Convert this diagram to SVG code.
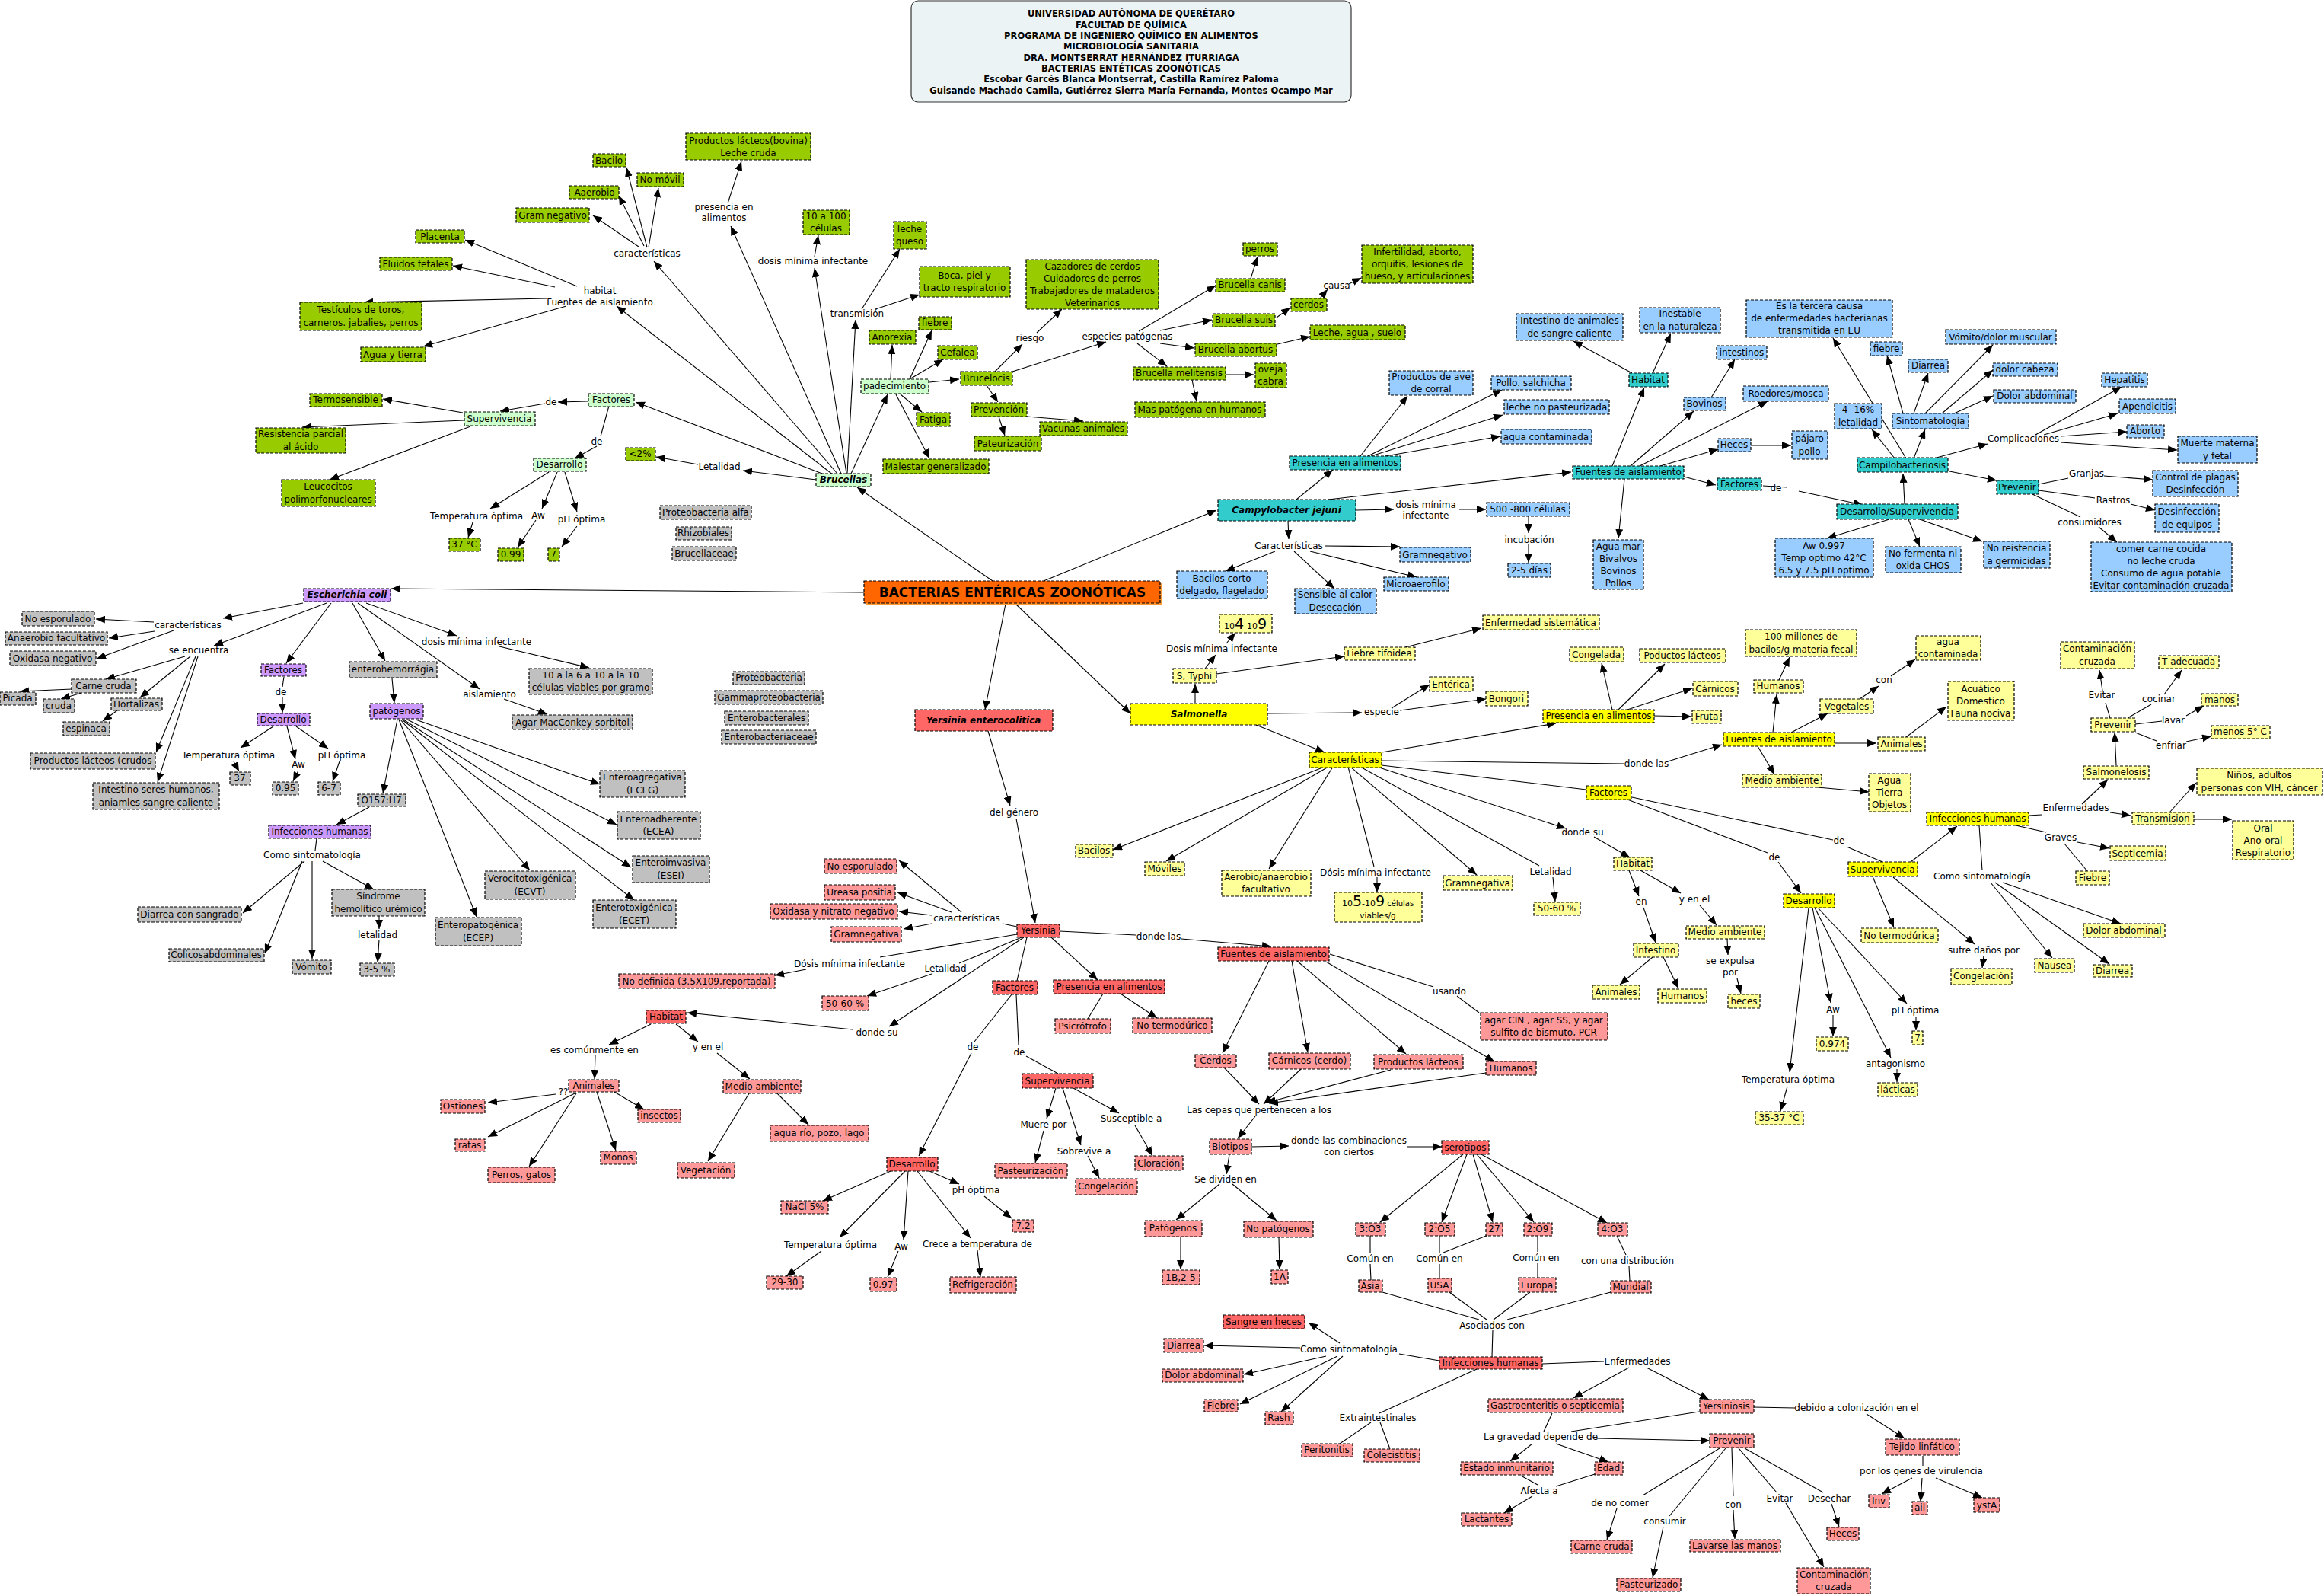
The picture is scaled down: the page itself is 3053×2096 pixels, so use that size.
<svg xmlns="http://www.w3.org/2000/svg" width="3053" height="2096" viewBox="0 0 3053 2096">
<style>
svg text{font-family:"DejaVu Sans",Verdana,sans-serif;font-size:12px;text-anchor:middle;fill:#000}
.n rect{stroke:#000;stroke-width:1.2;stroke-dasharray:4 2}
.og rect{fill:#99CC00}.lg rect{fill:#CCFFCC}.gr rect{fill:#C0C0C0}.pu rect{fill:#CC99FF}.tl rect{fill:#33CCCC}.lb rect{fill:#99CCFF}.ys rect{fill:#FFFF00}.yl rect{fill:#FFFF99}.rd rect{fill:#FF6666}.pk rect{fill:#FF9999}
.bi text{font-weight:bold;font-style:italic}
.tt{font-weight:bold;font-size:11.5px}
#conn path{stroke:#000;stroke-width:1.1;fill:none}
#conn .a{marker-end:url(#ar)}
</style>
<defs>
<marker id="ar" viewBox="0 0 12 10" refX="12" refY="5" markerWidth="12" markerHeight="10" markerUnits="userSpaceOnUse" orient="auto"><path d="M0,0L12,5L0,10z" fill="#000"/></marker>
</defs>
<rect width="3053" height="2096" fill="#fff"/>
<g id="conn">
<path class="a" d="M1100 622L859 343"/><path class="a" d="M850 325L823 220"/><path class="a" d="M852 325L865 247"/><path class="a" d="M846 323L813 257"/><path class="a" d="M839 324L779 283"/><path class="a" d="M1105 622L960 297"/><path class="a" d="M956 267L974 212"/><path class="a" d="M1095 624L810 402"/><path class="a" d="M758 376L611 315"/><path class="a" d="M729 377L595 349"/><path class="a" d="M719 392L478 397"/><path class="a" d="M744 402L556 455"/><path class="a" d="M1080 622L835 528"/><path class="a" d="M773 527L733 528"/><path class="a" d="M716 530L657 540"/><path class="a" d="M608 542L503 524"/><path class="a" d="M610 552L397 561"/><path class="a" d="M618 560L433 630"/><path d="M800 533L789 573"/><path class="a" d="M784 586L755 602"/><path class="a" d="M1072 630L976 618"/><path class="a" d="M917 610L862 600"/><path class="a" d="M721 620L644 668"/><path class="a" d="M732 620L712 668"/><path class="a" d="M742 620L758 672"/><path class="a" d="M621 686L615 706"/><path class="a" d="M704 683L680 719"/><path class="a" d="M758 691L738 718"/><path class="a" d="M1112 622L1070 352"/><path class="a" d="M1070 337L1075 309"/><path class="a" d="M1113 622L1124 420"/><path class="a" d="M1132 406L1182 327"/><path class="a" d="M1150 406L1208 387"/><path class="a" d="M1118 622L1166 518"/><path class="a" d="M1170 498L1172 453"/><path class="a" d="M1195 498L1224 434"/><path class="a" d="M1195 498L1239 472"/><path class="a" d="M1221 502L1260 498"/><path class="a" d="M1183 518L1211 541"/><path class="a" d="M1177 518L1221 602"/><path class="a" d="M1307 488L1343 452"/><path class="a" d="M1362 437L1395 406"/><path class="a" d="M1330 488L1453 449"/><path class="a" d="M1296 506L1311 528"/><path class="a" d="M1349 547L1423 553"/><path class="a" d="M1312 547L1320 572"/><path class="a" d="M1496 435L1597 375"/><path class="a" d="M1524 434L1592 420"/><path class="a" d="M1524 451L1569 457"/><path class="a" d="M1494 451L1533 481"/><path class="a" d="M1643 366L1652 337"/><path class="a" d="M1677 417L1695 404"/><path class="a" d="M1734 392L1744 380"/><path class="a" d="M1772 373L1788 365"/><path class="a" d="M1678 452L1721 442"/><path class="a" d="M1610 492L1647 492"/><path class="a" d="M1566 499L1572 527"/>
<path class="a" d="M1371 763L1598 670"/><path class="a" d="M1304 763L1126 640"/><path class="a" d="M1135 778L514 773"/><path class="a" d="M1321 793L1294 932"/><path class="a" d="M1334 793L1485 937"/>
<path class="a" d="M1703 656L1751 617"/><path class="a" d="M1787 599L1849 520"/><path class="a" d="M1797 599L1973 512"/><path class="a" d="M1801 599L1974 545"/><path class="a" d="M1820 599L1971 573"/><path class="a" d="M1745 656L2064 620"/><path class="a" d="M2118 612L2160 509"/><path class="a" d="M2144 490L2067 448"/><path class="a" d="M2171 490L2195 438"/><path class="a" d="M2142 612L2225 540"/><path class="a" d="M2248 522L2279 472"/><path class="a" d="M2154 612L2322 527"/><path class="a" d="M2181 612L2257 590"/><path class="a" d="M2300 585L2353 585"/><path class="a" d="M2134 629L2126 707"/><path class="a" d="M2212 626L2254 637"/><path d="M2316 638L2348 640"/><path class="a" d="M2363 645L2447 663"/><path class="a" d="M2502 662L2500 622"/><path class="a" d="M2489 602L2459 564"/><path class="a" d="M2504 602L2408 444"/><path class="a" d="M2514 602L2529 564"/><path class="a" d="M2500 543L2479 467"/><path class="a" d="M2514 543L2533 490"/><path class="a" d="M2529 543L2618 453"/><path class="a" d="M2551 543L2618 486"/><path class="a" d="M2567 543L2618 520"/><path class="a" d="M2544 601L2611 583"/><path class="a" d="M2674 571L2787 508"/><path class="a" d="M2685 571L2782 543"/><path class="a" d="M2707 573L2794 567"/><path class="a" d="M2707 581L2860 591"/><path class="a" d="M2561 619L2623 631"/><path d="M2678 636L2717 628"/><path class="a" d="M2764 625L2828 630"/><path d="M2678 644L2752 654"/><path class="a" d="M2799 662L2831 670"/><path d="M2670 649L2733 679"/><path class="a" d="M2757 692L2781 712"/><path class="a" d="M2482 682L2400 707"/><path class="a" d="M2507 682L2522 718"/><path class="a" d="M2522 682L2604 711"/><path class="a" d="M1781 670L1831 669"/><path class="a" d="M1917 669L1952 669"/><path class="a" d="M2008 678L2008 700"/><path class="a" d="M2008 715L2008 739"/><path class="a" d="M1692 684L1693 708"/><path class="a" d="M1740 717L1839 718"/><path class="a" d="M1675 724L1610 750"/><path class="a" d="M1700 724L1753 773"/><path class="a" d="M1721 724L1861 758"/>
<path class="a" d="M1570 923L1570 898"/><path class="a" d="M1583 878L1597 860"/><path class="a" d="M1611 845L1623 831"/><path class="a" d="M1598 885L1766 862"/><path class="a" d="M1846 850L1946 825"/><path class="a" d="M1665 937L1789 936"/><path class="a" d="M1828 930L1878 899"/><path class="a" d="M1839 933L1952 918"/><path class="a" d="M1650 952L1740 988"/><path class="a" d="M1740 1007L1462 1116"/><path class="a" d="M1745 1007L1532 1131"/><path class="a" d="M1751 1007L1667 1141"/><path d="M1771 1007L1805 1138"/><path class="a" d="M1809 1152L1809 1172"/><path class="a" d="M1774 1007L1940 1149"/><path d="M1787 1007L2022 1137"/><path class="a" d="M2040 1152L2043 1184"/><path d="M1815 999L2134 1003"/><path class="a" d="M2191 1000L2262 978"/><path class="a" d="M1815 988L2044 950"/><path class="a" d="M2118 932L2104 871"/><path class="a" d="M2126 932L2187 872"/><path class="a" d="M2138 932L2223 904"/><path class="a" d="M2173 940L2222 941"/><path class="a" d="M2329 962L2334 912"/><path class="a" d="M2337 893L2351 863"/><path class="a" d="M2353 962L2401 937"/><path class="a" d="M2443 918L2468 901"/><path class="a" d="M2484 888L2516 866"/><path class="a" d="M2411 976L2465 976"/><path class="a" d="M2504 968L2557 928"/><path class="a" d="M2309 980L2331 1017"/><path class="a" d="M2388 1034L2455 1040"/><path d="M1815 1005L2084 1037"/><path class="a" d="M1812 1008L2057 1088"/><path class="a" d="M2094 1099L2141 1126"/><path class="a" d="M2140 1143L2153 1177"/><path class="a" d="M2155 1143L2208 1173"/><path class="a" d="M2159 1192L2175 1238"/><path class="a" d="M2233 1189L2255 1215"/><path class="a" d="M2171 1257L2128 1293"/><path class="a" d="M2185 1257L2205 1298"/><path class="a" d="M2269 1233L2270 1254"/><path class="a" d="M2282 1285L2287 1305"/><path d="M2138 1050L2322 1120"/><path class="a" d="M2336 1132L2366 1173"/><path d="M2144 1047L2408 1103"/><path d="M2426 1112L2473 1132"/><path class="a" d="M2510 1132L2571 1085"/><path d="M2665 1071L2682 1070"/><path class="a" d="M2735 1056L2769 1024"/><path class="a" d="M2780 1005L2778 962"/><path d="M2772 943L2766 923"/><path class="a" d="M2762 907L2758 880"/><path d="M2795 943L2826 925"/><path class="a" d="M2843 912L2866 880"/><path d="M2805 951L2840 947"/><path class="a" d="M2872 940L2895 927"/><path d="M2805 962L2833 973"/><path class="a" d="M2872 974L2905 967"/><path class="a" d="M2772 1067L2799 1071"/><path class="a" d="M2850 1067L2885 1028"/><path class="a" d="M2882 1076L2932 1076"/><path d="M2648 1084L2688 1093"/><path class="a" d="M2729 1106L2771 1114"/><path d="M2712 1108L2742 1144"/><path d="M2600 1084L2604 1143"/><path class="a" d="M2615 1159L2696 1258"/><path class="a" d="M2621 1159L2771 1266"/><path class="a" d="M2631 1159L2786 1213"/><path class="a" d="M2460 1151L2488 1218"/><path class="a" d="M2487 1152L2594 1240"/><path class="a" d="M2606 1255L2604 1271"/><path class="a" d="M2376 1192L2351 1408"/><path class="a" d="M2348 1427L2339 1459"/><path class="a" d="M2381 1192L2405 1317"/><path class="a" d="M2408 1333L2408 1361"/><path class="a" d="M2384 1192L2484 1389"/><path class="a" d="M2492 1404L2492 1421"/><path class="a" d="M2388 1192L2505 1318"/><path class="a" d="M2517 1335L2517 1353"/>
<path class="a" d="M1298 960L1327 1058"/><path class="a" d="M1335 1075L1360 1212"/>
<path class="a" d="M398 792L293 812"/><path class="a" d="M202 817L126 813"/><path class="a" d="M203 829L143 838"/><path class="a" d="M228 828L127 865"/><path class="a" d="M429 792L281 848"/><path class="a" d="M243 862L139 892"/><path class="a" d="M94 905L26 908"/><path class="a" d="M107 910L80 918"/><path class="a" d="M250 862L184 916"/><path class="a" d="M154 933L135 947"/><path class="a" d="M257 862L205 988"/><path class="a" d="M260 862L207 1027"/><path class="a" d="M435 792L376 871"/><path d="M373 889L371 902"/><path class="a" d="M371 916L371 936"/><path class="a" d="M359 954L316 982"/><path class="a" d="M377 954L388 997"/><path class="a" d="M389 954L431 983"/><path class="a" d="M307 1000L314 1013"/><path class="a" d="M392 1012L385 1026"/><path class="a" d="M446 1000L437 1026"/><path class="a" d="M463 792L506 868"/><path class="a" d="M515 891L518 923"/><path class="a" d="M470 792L630 905"/><path class="a" d="M662 918L719 938"/><path class="a" d="M481 792L600 835"/><path class="a" d="M656 849L774 877"/><path class="a" d="M522 945L503 1042"/><path class="a" d="M546 945L788 1030"/><path class="a" d="M535 945L810 1083"/><path class="a" d="M530 945L829 1139"/><path class="a" d="M528 945L833 1182"/><path class="a" d="M526 945L696 1143"/><path class="a" d="M524 945L626 1204"/><path class="a" d="M485 1060L442 1083"/><path d="M416 1101L414 1117"/><path class="a" d="M400 1131L319 1199"/><path class="a" d="M397 1131L348 1252"/><path class="a" d="M410 1131L410 1259"/><path class="a" d="M424 1131L491 1168"/><path class="a" d="M498 1203L498 1220"/><path class="a" d="M498 1234L496 1264"/>
<path d="M1336 1217L1317 1213"/><path class="a" d="M1263 1198L1181 1130"/><path class="a" d="M1250 1198L1179 1172"/><path class="a" d="M1224 1202L1181 1197"/><path class="a" d="M1224 1213L1187 1220"/><path d="M1336 1227L1156 1257"/><path class="a" d="M1059 1273L1018 1281"/><path d="M1342 1231L1260 1265"/><path class="a" d="M1224 1279L1139 1308"/><path class="a" d="M1345 1231L1168 1348"/><path class="a" d="M1120 1352L903 1330"/><path class="a" d="M855 1345L800 1372"/><path class="a" d="M888 1345L917 1368"/><path class="a" d="M782 1386L781 1417"/><path class="a" d="M942 1383L985 1417"/><path class="a" d="M730 1437L641 1448"/><path class="a" d="M755 1436L641 1493"/><path class="a" d="M757 1436L695 1532"/><path class="a" d="M784 1434L809 1511"/><path class="a" d="M807 1434L846 1457"/><path class="a" d="M984 1436L930 1525"/><path class="a" d="M1020 1435L1062 1477"/><path d="M1349 1231L1336 1288"/><path class="a" d="M1381 1231L1442 1287"/><path d="M1449 1305L1429 1338"/><path class="a" d="M1472 1305L1520 1337"/><path d="M1392 1223L1492 1228"/><path class="a" d="M1552 1233L1670 1243"/><path class="a" d="M1667 1262L1606 1383"/><path class="a" d="M1697 1262L1718 1382"/><path class="a" d="M1704 1262L1847 1384"/><path class="a" d="M1742 1263L1963 1394"/><path d="M1747 1253L1883 1296"/><path d="M1914 1308L1943 1330"/><path class="a" d="M1608 1402L1654 1450"/><path class="a" d="M1709 1404L1660 1450"/><path class="a" d="M1827 1405L1664 1448"/><path class="a" d="M1952 1409L1667 1449"/><path class="a" d="M1649 1466L1626 1495"/><path class="a" d="M1644 1506L1693 1505"/><path class="a" d="M1849 1506L1894 1506"/><path class="a" d="M1615 1516L1611 1542"/><path class="a" d="M1602 1555L1545 1602"/><path class="a" d="M1619 1555L1677 1603"/><path class="a" d="M1551 1624L1551 1667"/><path class="a" d="M1680 1625L1681 1667"/><path class="a" d="M1922 1516L1813 1605"/><path class="a" d="M1927 1516L1894 1605"/><path class="a" d="M1935 1516L1961 1605"/><path class="a" d="M1940 1516L2015 1605"/><path class="a" d="M1946 1516L2111 1606"/><path d="M1800 1623L1800 1645"/><path d="M1800 1660L1801 1681"/><path d="M1891 1623L1891 1645"/><path d="M1891 1660L1891 1679"/><path d="M1955 1622L1896 1645"/><path d="M2020 1623L2020 1644"/><path d="M2020 1659L2020 1678"/><path d="M2124 1623L2136 1648"/><path d="M2140 1663L2141 1682"/><path d="M1816 1697L1943 1733"/><path d="M1904 1697L1953 1733"/><path d="M2010 1697L1962 1733"/><path d="M2116 1697L1980 1733"/><path d="M1961 1747L1960 1782"/><path d="M1891 1787L1838 1778"/><path class="a" d="M1760 1764L1719 1737"/><path class="a" d="M1708 1770L1582 1767"/><path class="a" d="M1742 1781L1634 1805"/><path class="a" d="M1757 1781L1629 1844"/><path class="a" d="M1764 1781L1683 1854"/><path d="M1940 1798L1812 1856"/><path d="M1801 1868L1760 1896"/><path d="M1813 1868L1826 1903"/><path d="M2026 1791L2107 1788"/><path class="a" d="M2140 1796L2067 1836"/><path class="a" d="M2163 1796L2245 1838"/><path d="M2304 1848L2358 1849"/><path class="a" d="M2452 1857L2502 1889"/><path d="M2526 1912L2526 1925"/><path class="a" d="M2512 1941L2472 1962"/><path class="a" d="M2525 1941L2523 1972"/><path class="a" d="M2543 1941L2604 1967"/><path d="M2039 1856L2028 1880"/><path d="M2232 1854L2064 1880"/><path class="a" d="M2097 1889L2246 1892"/><path class="a" d="M2013 1896L1984 1919"/><path class="a" d="M2044 1896L2113 1920"/><path d="M1998 1938L2020 1950"/><path d="M2095 1936L2044 1952"/><path class="a" d="M2013 1965L1976 1987"/><path d="M2259 1902L2158 1964"/><path class="a" d="M2124 1981L2111 2022"/><path d="M2267 1902L2193 1991"/><path class="a" d="M2185 2005L2171 2072"/><path d="M2275 1902L2277 1965"/><path class="a" d="M2277 1983L2279 2021"/><path d="M2284 1902L2334 1960"/><path class="a" d="M2346 1974L2396 2058"/><path d="M2292 1902L2395 1960"/><path class="a" d="M2406 1975L2416 2005"/><path d="M1329 1306L1280 1368"/><path class="a" d="M1276 1383L1207 1518"/><path d="M1335 1306L1338 1372"/><path d="M1348 1387L1390 1410"/><path class="a" d="M1387 1429L1375 1469"/><path class="a" d="M1371 1485L1360 1527"/><path class="a" d="M1396 1429L1420 1504"/><path class="a" d="M1429 1518L1444 1547"/><path class="a" d="M1410 1429L1470 1462"/><path class="a" d="M1491 1478L1514 1518"/><path class="a" d="M1170 1538L1081 1577"/><path class="a" d="M1189 1538L1103 1625"/><path class="a" d="M1079 1643L1033 1676"/><path class="a" d="M1193 1538L1187 1628"/><path class="a" d="M1180 1643L1166 1677"/><path class="a" d="M1205 1538L1275 1626"/><path class="a" d="M1284 1642L1288 1677"/><path class="a" d="M1221 1538L1260 1555"/><path class="a" d="M1293 1571L1329 1600"/>
</g>
<g id="linking-phrases">
<text x="850" y="337">características</text><text x="951" y="276">presencia en</text><text x="951" y="290">alimentos</text><text x="788" y="386">habitat</text><text x="788" y="401">Fuentes de aislamiento</text><text x="724" y="532">de</text><text x="784" y="584">de</text><text x="945" y="617">Letalidad</text><text x="626" y="682">Temperatura óptima</text><text x="707" y="681">Aw</text><text x="764" y="686">pH óptima</text><text x="1068" y="347">dosis mínima infectante</text><text x="1126" y="416">transmisión</text><text x="1353" y="448">riesgo</text><text x="1481" y="446">especies patógenas</text><text x="1756" y="379">causa</text>
<text x="1873" y="667">dosis mínima</text><text x="1873" y="681">infectante</text><text x="2009" y="713">incubación</text><text x="1693" y="721">Características</text><text x="2658" y="580">Complicaciones</text><text x="2741" y="626">Granjas</text><text x="2333" y="645">de</text><text x="2776" y="661">Rastros</text><text x="2745" y="690">consumidores</text>
<text x="1605" y="856">Dosis mínima infectante</text><text x="1815" y="939">especie</text><text x="2475" y="897">con</text><text x="2761" y="917">Evitar</text><text x="2836" y="922">cocinar</text><text x="2855" y="950">lavar</text><text x="2852" y="983">enfriar</text><text x="2163" y="1007">donde las</text><text x="2727" y="1065">Enfermedades</text><text x="2079" y="1097">donde su</text><text x="2707" y="1104">Graves</text><text x="2416" y="1108">de</text><text x="2331" y="1130">de</text><text x="2604" y="1155">Como sintomatología</text><text x="1807" y="1150">Dósis mínima infectante</text><text x="2037" y="1149">Letalidad</text><text x="2156" y="1188">en</text><text x="2226" y="1185">y en el</text><text x="2606" y="1252">sufre daños por</text><text x="2273" y="1266">se expulsa</text><text x="2273" y="1281">por</text><text x="2408" y="1330">Aw</text><text x="2516" y="1331">pH óptima</text><text x="2490" y="1401">antagonismo</text><text x="2349" y="1422">Temperatura óptima</text>
<text x="247" y="825">características</text><text x="261" y="858">se encuentra</text><text x="626" y="847">dosis mínima infectante</text><text x="369" y="913">de</text><text x="643" y="916">aislamiento</text><text x="300" y="996">Temperatura óptima</text><text x="392" y="1008">Aw</text><text x="449" y="996">pH óptima</text><text x="410" y="1127">Como sintomatología</text><text x="496" y="1232">letalidad</text>
<text x="1332" y="1071">del género</text><text x="1270" y="1210">características</text><text x="1522" y="1234">donde las</text><text x="1116" y="1270">Dósis mínima infectante</text><text x="1242" y="1276">Letalidad</text><text x="1904" y="1306">usando</text><text x="1152" y="1360">donde su</text><text x="781" y="1383">es comúnmente en</text><text x="930" y="1379">y en el</text><text x="740" y="1438">??</text><text x="1278" y="1379">de</text><text x="1339" y="1386">de</text><text x="1654" y="1462">Las cepas que pertenecen a los</text><text x="1371" y="1481">Muere por</text><text x="1486" y="1473">Susceptible a</text><text x="1772" y="1502">donde las combinaciones</text><text x="1772" y="1517">con ciertos</text><text x="1424" y="1516">Sobrevive a</text><text x="1610" y="1553">Se dividen en</text><text x="1282" y="1567">pH óptima</text><text x="1091" y="1639">Temperatura óptima</text><text x="1184" y="1641">Aw</text><text x="1284" y="1638">Crece a temperatura de</text><text x="1800" y="1657">Común en</text><text x="1891" y="1657">Común en</text><text x="2018" y="1656">Común en</text><text x="2138" y="1660">con una distribución</text><text x="1960" y="1745">Asociados con</text><text x="1772" y="1776">Como sintomatología</text><text x="2151" y="1792">Enfermedades</text><text x="2439" y="1853">debido a colonización en el</text><text x="1810" y="1866">Extraintestinales</text><text x="2024" y="1891">La gravedad depende de</text><text x="2524" y="1936">por los genes de virulencia</text><text x="2022" y="1962">Afecta a</text><text x="2338" y="1972">Evitar</text><text x="2403" y="1972">Desechar</text><text x="2128" y="1978">de no comer</text><text x="2277" y="1980">con</text><text x="2187" y="2002">consumir</text>
</g>
<g id="title"><rect x="1197" y="1" width="578" height="133" rx="9" fill="#ECF3F5" stroke="#333" stroke-width="1.2"/><text class="tt"><tspan x="1486" y="22">UNIVERSIDAD AUTÓNOMA DE QUERÉTARO</tspan><tspan x="1486" y="37">FACULTAD DE QUÍMICA</tspan><tspan x="1486" y="51">PROGRAMA DE INGENIERO QUÍMICO EN ALIMENTOS</tspan><tspan x="1486" y="65">MICROBIOLOGÍA SANITARIA</tspan><tspan x="1486" y="80">DRA. MONTSERRAT HERNÁNDEZ ITURRIAGA</tspan><tspan x="1486" y="94">BACTERIAS ENTÉTICAS ZOONÓTICAS</tspan><tspan x="1486" y="108">Escobar Garcés Blanca Montserrat, Castilla Ramírez Paloma</tspan><tspan x="1486" y="123">Guisande Machado Camila, Gutiérrez Sierra María Fernanda, Montes Ocampo Mar</tspan></text></g>
<g id="main"><rect x="1138" y="766" width="389" height="29" fill="#FF9933"/><rect x="1135" y="763" width="389" height="29" fill="#FF6600" stroke="#000" stroke-width="1.2" stroke-dasharray="4 2"/><text x="1330" y="784" style="font-size:17px;font-weight:bold">BACTERIAS ENTÉRICAS ZOONÓTICAS</text></g>
<g id="b1" class="n lg bi"><rect x="1072" y="622" width="72" height="17"/><text x="1108" y="634">Brucellas</text></g>
<g id="b2" class="n og"><rect x="901" y="175" width="164" height="35"/><text><tspan x="983" y="189">Productos lácteos(bovina)</tspan><tspan x="983" y="205">Leche cruda</tspan></text></g>
<g id="b3" class="n og"><rect x="779" y="202" width="43" height="17"/><text x="800" y="215">Bacilo</text></g>
<g id="b4" class="n og"><rect x="837" y="227" width="61" height="18"/><text x="867" y="240">No móvil</text></g>
<g id="b5" class="n og"><rect x="748" y="244" width="65" height="17"/><text x="781" y="257">Aaerobio</text></g>
<g id="b6" class="n og"><rect x="678" y="273" width="96" height="19"/><text x="726" y="287">Gram negativo</text></g>
<g id="b7" class="n og"><rect x="546" y="302" width="64" height="17"/><text x="578" y="315">Placenta</text></g>
<g id="b8" class="n og"><rect x="499" y="338" width="95" height="17"/><text x="546" y="351">Fluidos fetales</text></g>
<g id="b9" class="n og"><rect x="394" y="397" width="160" height="37"/><text><tspan x="474" y="411">Testículos de toros,</tspan><tspan x="474" y="428">carneros. jabalies, perros</tspan></text></g>
<g id="b10" class="n og"><rect x="474" y="456" width="85" height="19"/><text x="516" y="470">Agua y tierra</text></g>
<g id="b11" class="n og"><rect x="407" y="517" width="95" height="17"/><text x="454" y="529">Termosensible</text></g>
<g id="b12" class="n lg"><rect x="773" y="517" width="60" height="17"/><text x="803" y="529">Factores</text></g>
<g id="b13" class="n lg"><rect x="610" y="541" width="93" height="18"/><text x="656" y="554">Supervivencia</text></g>
<g id="b14" class="n og"><rect x="336" y="562" width="118" height="33"/><text><tspan x="395" y="574">Resistencia parcial</tspan><tspan x="395" y="591">al ácido</tspan></text></g>
<g id="b15" class="n og"><rect x="822" y="588" width="39" height="17"/><text x="841" y="600">&lt;2%</text></g>
<g id="b16" class="n lg"><rect x="701" y="602" width="69" height="17"/><text x="735" y="614">Desarrollo</text></g>
<g id="b17" class="n og"><rect x="370" y="630" width="123" height="35"/><text><tspan x="431" y="643">Leucocitos</tspan><tspan x="431" y="660">polimorfonucleares</tspan></text></g>
<g id="b18" class="n og"><rect x="590" y="707" width="41" height="17"/><text x="610" y="719">37 °C</text></g>
<g id="b19" class="n og"><rect x="654" y="720" width="34" height="17"/><text x="671" y="732">0.99</text></g>
<g id="b20" class="n og"><rect x="720" y="720" width="15" height="17"/><text x="727" y="732">7</text></g>
<g id="b21" class="n og"><rect x="1055" y="276" width="61" height="32"/><text><tspan x="1085" y="288">10 a 100</tspan><tspan x="1085" y="304">células</tspan></text></g>
<g id="b22" class="n og"><rect x="1174" y="291" width="43" height="36"/><text><tspan x="1195" y="305">leche</tspan><tspan x="1195" y="321">queso</tspan></text></g>
<g id="b23" class="n og"><rect x="1208" y="350" width="119" height="40"/><text><tspan x="1267" y="366">Boca, piel y</tspan><tspan x="1267" y="382">tracto respiratorio</tspan></text></g>
<g id="b24" class="n og"><rect x="1348" y="341" width="174" height="65"/><text><tspan x="1435" y="354">Cazadores de cerdos</tspan><tspan x="1435" y="370">Cuidadores de perros</tspan><tspan x="1435" y="386">Trabajadores de mataderos</tspan><tspan x="1435" y="402">Veterinarios</tspan></text></g>
<g id="b25" class="n og"><rect x="1633" y="319" width="45" height="17"/><text x="1655" y="331">perros</text></g>
<g id="b26" class="n og"><rect x="1789" y="322" width="146" height="50"/><text><tspan x="1862" y="335">Infertilidad, aborto,</tspan><tspan x="1862" y="351">orquitis, lesiones de</tspan><tspan x="1862" y="367">hueso, y articulaciones</tspan></text></g>
<g id="b27" class="n og"><rect x="1597" y="366" width="91" height="17"/><text x="1642" y="378">Brucella canis</text></g>
<g id="b28" class="n og"><rect x="1696" y="392" width="47" height="17"/><text x="1719" y="404">cerdos</text></g>
<g id="b29" class="n og"><rect x="1593" y="412" width="82" height="17"/><text x="1634" y="424">Brucella suis</text></g>
<g id="b30" class="n og"><rect x="1721" y="427" width="125" height="19"/><text x="1783" y="441">Leche, agua , suelo</text></g>
<g id="b31" class="n og"><rect x="1207" y="416" width="43" height="17"/><text x="1228" y="428">fiebre</text></g>
<g id="b32" class="n og"><rect x="1142" y="434" width="61" height="18"/><text x="1172" y="447">Anorexia</text></g>
<g id="b33" class="n og"><rect x="1232" y="454" width="52" height="18"/><text x="1258" y="467">Cefalea</text></g>
<g id="b34" class="n og"><rect x="1570" y="451" width="107" height="17"/><text x="1623" y="463">Brucella abortus</text></g>
<g id="b35" class="n og"><rect x="1489" y="482" width="121" height="17"/><text x="1549" y="494">Brucella melitensis</text></g>
<g id="b36" class="n og"><rect x="1649" y="477" width="41" height="32"/><text><tspan x="1669" y="489">oveja</tspan><tspan x="1669" y="505">cabra</tspan></text></g>
<g id="b37" class="n lg"><rect x="1131" y="498" width="89" height="19"/><text x="1175" y="511">padecimiento</text></g>
<g id="b38" class="n og"><rect x="1262" y="488" width="68" height="18"/><text x="1296" y="501">Brucelocis</text></g>
<g id="b39" class="n og"><rect x="1491" y="528" width="171" height="20"/><text x="1576" y="542">Mas patógena en humanos</text></g>
<g id="b40" class="n og"><rect x="1276" y="529" width="73" height="18"/><text x="1312" y="542">Prevención</text></g>
<g id="b41" class="n og"><rect x="1204" y="542" width="44" height="18"/><text x="1226" y="555">Fatiga</text></g>
<g id="b42" class="n og"><rect x="1366" y="554" width="115" height="18"/><text x="1423" y="567">Vacunas animales</text></g>
<g id="b43" class="n og"><rect x="1280" y="573" width="88" height="19"/><text x="1324" y="587">Pateurización</text></g>
<g id="b44" class="n og"><rect x="1160" y="603" width="139" height="19"/><text x="1229" y="617">Malestar generalizado</text></g>
<g id="g1" class="n gr"><rect x="867" y="664" width="120" height="18"/><text x="927" y="677">Proteobacteria alfa</text></g>
<g id="g2" class="n gr"><rect x="888" y="692" width="73" height="17"/><text x="924" y="704">Rhizobiales</text></g>
<g id="g3" class="n gr"><rect x="883" y="718" width="84" height="18"/><text x="925" y="731">Brucellaceae</text></g>
<g id="g4" class="n gr"><rect x="963" y="882" width="94" height="17"/><text x="1010" y="894">Proteobacteria</text></g>
<g id="g5" class="n gr"><rect x="939" y="907" width="142" height="18"/><text x="1010" y="920">Gammaproteobacteria</text></g>
<g id="g6" class="n gr"><rect x="952" y="934" width="110" height="18"/><text x="1007" y="947">Enterobacterales</text></g>
<g id="g7" class="n gr"><rect x="948" y="959" width="124" height="18"/><text x="1010" y="972">Enterobacteriaceae</text></g>
<g id="c1" class="n tl bi"><rect x="1600" y="656" width="181" height="28"/><text x="1690" y="674">Campylobacter jejuni</text></g>
<g id="c2" class="n tl"><rect x="1694" y="599" width="146" height="18"/><text x="1767" y="612">Presencia en alimentos</text></g>
<g id="c3" class="n lb"><rect x="1825" y="487" width="110" height="32"/><text><tspan x="1880" y="499">Productos de ave</tspan><tspan x="1880" y="515">de corral</tspan></text></g>
<g id="c4" class="n lb"><rect x="1959" y="494" width="105" height="18"/><text x="2011" y="507">Pollo. salchicha</text></g>
<g id="c5" class="n lb"><rect x="1976" y="525" width="138" height="19"/><text x="2045" y="539">leche no pasteurizada</text></g>
<g id="c6" class="n lb"><rect x="1972" y="564" width="119" height="19"/><text x="2031" y="578">agua contaminada</text></g>
<g id="c7" class="n lb"><rect x="1992" y="412" width="140" height="35"/><text><tspan x="2062" y="425">Intestino de animales</tspan><tspan x="2062" y="442">de sangre caliente</tspan></text></g>
<g id="c8" class="n lb"><rect x="2154" y="404" width="106" height="33"/><text><tspan x="2207" y="416">Inestable</tspan><tspan x="2207" y="433">en la naturaleza</tspan></text></g>
<g id="c9" class="n lb"><rect x="2294" y="394" width="192" height="49"/><text><tspan x="2390" y="406">Es la tercera causa</tspan><tspan x="2390" y="422">de enfermedades bacterianas</tspan><tspan x="2390" y="438">transmitida en EU</tspan></text></g>
<g id="c10" class="n lb"><rect x="2556" y="433" width="145" height="19"/><text x="2628" y="447">Vómito/dolor muscular</text></g>
<g id="c11" class="n lb"><rect x="2457" y="449" width="42" height="18"/><text x="2478" y="462">fiebre</text></g>
<g id="c12" class="n lb"><rect x="2255" y="454" width="66" height="18"/><text x="2288" y="467">intestinos</text></g>
<g id="c13" class="n lb"><rect x="2507" y="472" width="52" height="17"/><text x="2533" y="484">Diarrea</text></g>
<g id="c14" class="n lb"><rect x="2618" y="477" width="85" height="17"/><text x="2660" y="489">dolor cabeza</text></g>
<g id="c15" class="n lb"><rect x="2761" y="490" width="60" height="18"/><text x="2791" y="503">Hepatitis</text></g>
<g id="c16" class="n tl"><rect x="2140" y="490" width="51" height="18"/><text x="2165" y="503">Habitat</text></g>
<g id="c17" class="n lb"><rect x="2290" y="507" width="112" height="20"/><text x="2346" y="521">Roedores/mosca</text></g>
<g id="c18" class="n lb"><rect x="2212" y="522" width="55" height="17"/><text x="2239" y="534">Bovinos</text></g>
<g id="c19" class="n lb"><rect x="2619" y="512" width="108" height="17"/><text x="2673" y="524">Dolor abdominal</text></g>
<g id="c20" class="n lb"><rect x="2784" y="524" width="74" height="19"/><text x="2821" y="538">Apendicitis</text></g>
<g id="c21" class="n lb"><rect x="2410" y="530" width="62" height="33"/><text><tspan x="2441" y="542">4 -16%</tspan><tspan x="2441" y="559">letalidad</tspan></text></g>
<g id="c22" class="n lb"><rect x="2486" y="543" width="100" height="20"/><text x="2536" y="557">Sintomatología</text></g>
<g id="c23" class="n lb"><rect x="2794" y="558" width="49" height="17"/><text x="2818" y="570">Aborto</text></g>
<g id="c24" class="n lb"><rect x="2257" y="576" width="43" height="17"/><text x="2278" y="588">Heces</text></g>
<g id="c25" class="n lb"><rect x="2354" y="566" width="47" height="37"/><text><tspan x="2377" y="580">pájaro</tspan><tspan x="2377" y="597">pollo</tspan></text></g>
<g id="c26" class="n lb"><rect x="2861" y="573" width="104" height="35"/><text><tspan x="2913" y="586">Muerte materna</tspan><tspan x="2913" y="603">y fetal</tspan></text></g>
<g id="c27" class="n tl"><rect x="2066" y="612" width="146" height="17"/><text x="2139" y="624">Fuentes de aislamiento</text></g>
<g id="c28" class="n tl"><rect x="2440" y="601" width="119" height="19"/><text x="2499" y="615">Campilobacteriosis</text></g>
<g id="c29" class="n lb"><rect x="2828" y="618" width="112" height="34"/><text><tspan x="2884" y="631">Control de plagas</tspan><tspan x="2884" y="647">Desinfección</tspan></text></g>
<g id="c30" class="n tl"><rect x="2256" y="628" width="58" height="16"/><text x="2285" y="640">Factores</text></g>
<g id="c31" class="n tl"><rect x="2623" y="631" width="55" height="18"/><text x="2650" y="644">Prevenir</text></g>
<g id="c32" class="n tl"><rect x="2413" y="662" width="159" height="20"/><text x="2492" y="676">Desarrollo/Supervivencia</text></g>
<g id="c33" class="n lb"><rect x="1953" y="660" width="109" height="18"/><text x="2007" y="673">500 -800 células</text></g>
<g id="c34" class="n lb"><rect x="1981" y="740" width="56" height="18"/><text x="2009" y="753">2-5 días</text></g>
<g id="c35" class="n lb"><rect x="2093" y="709" width="66" height="65"/><text><tspan x="2126" y="722">Agua mar</tspan><tspan x="2126" y="738">Bivalvos</tspan><tspan x="2126" y="754">Bovinos</tspan><tspan x="2126" y="770">Pollos</tspan></text></g>
<g id="c36" class="n lb"><rect x="2332" y="707" width="129" height="51"/><text><tspan x="2396" y="721">Aw 0.997</tspan><tspan x="2396" y="737">Temp optimo 42°C</tspan><tspan x="2396" y="753">6.5 y 7.5 pH optimo</tspan></text></g>
<g id="c37" class="n lb"><rect x="2477" y="718" width="99" height="34"/><text><tspan x="2526" y="731">No fermenta ni</tspan><tspan x="2526" y="747">oxida CHOS</tspan></text></g>
<g id="c38" class="n lb"><rect x="2606" y="711" width="87" height="35"/><text><tspan x="2649" y="724">No reistencia</tspan><tspan x="2649" y="741">a germicidas</tspan></text></g>
<g id="c39" class="n lb"><rect x="2831" y="662" width="84" height="37"/><text><tspan x="2873" y="676">Desinfección</tspan><tspan x="2873" y="693">de equipos</tspan></text></g>
<g id="c40" class="n lb"><rect x="2747" y="712" width="185" height="65"/><text><tspan x="2839" y="725">comer carne cocida</tspan><tspan x="2839" y="741">no leche cruda</tspan><tspan x="2839" y="757">Consumo de agua potable</tspan><tspan x="2839" y="773">Evitar contaminación cruzada</tspan></text></g>
<g id="c41" class="n lb"><rect x="1839" y="719" width="93" height="19"/><text x="1885" y="733">Gramnegativo</text></g>
<g id="c42" class="n lb"><rect x="1546" y="750" width="119" height="36"/><text><tspan x="1605" y="764">Bacilos corto</tspan><tspan x="1605" y="780">delgado, flagelado</tspan></text></g>
<g id="c43" class="n lb"><rect x="1818" y="758" width="85" height="18"/><text x="1860" y="771">Microaerofilo</text></g>
<g id="c44" class="n lb"><rect x="1701" y="773" width="107" height="33"/><text><tspan x="1754" y="785">Sensible al calor</tspan><tspan x="1754" y="802">Desecación</tspan></text></g>
<g id="s1" class="n ys bi"><rect x="1485" y="924" width="180" height="28"/><text x="1575" y="942">Salmonella</text></g>
<g id="s2" class="n yl"><rect x="1602" y="807" width="69" height="24"/><text x="1636" y="826"><tspan style="font-size:11px">10</tspan><tspan style="font-size:19px">4</tspan><tspan style="font-size:11px">-10</tspan><tspan style="font-size:19px">9</tspan></text></g>
<g id="s3" class="n yl"><rect x="1948" y="808" width="153" height="19"/><text x="2024" y="822">Enfermedad sistemática</text></g>
<g id="s4" class="n yl"><rect x="1766" y="850" width="93" height="17"/><text x="1812" y="862">Fiebre tifoidea</text></g>
<g id="s5" class="n yl"><rect x="1541" y="878" width="57" height="19"/><text x="1569" y="892">S, Typhi</text></g>
<g id="s6" class="n yl"><rect x="1878" y="889" width="57" height="19"/><text x="1906" y="903">Entérica</text></g>
<g id="s7" class="n yl"><rect x="1952" y="908" width="55" height="19"/><text x="1979" y="922">Bongori</text></g>
<g id="s8" class="n ys"><rect x="1720" y="988" width="95" height="20"/><text x="1767" y="1002">Características</text></g>
<g id="s9" class="n yl"><rect x="1413" y="1109" width="49" height="17"/><text x="1437" y="1121">Bacilos</text></g>
<g id="s10" class="n yl"><rect x="1504" y="1132" width="52" height="18"/><text x="1530" y="1145">Móviles</text></g>
<g id="s11" class="n yl"><rect x="1605" y="1143" width="117" height="34"/><text><tspan x="1663" y="1156">Aerobio/anaerobio</tspan><tspan x="1663" y="1172">facultativo</tspan></text></g>
<g id="s12" class="n yl"><rect x="1896" y="1150" width="91" height="19"/><text x="1941" y="1164">Gramnegativa</text></g>
<g id="s13" class="n yl"><rect x="1753" y="1172" width="115" height="39"/><text x="1810" y="1190"><tspan style="font-size:11px">10</tspan><tspan style="font-size:19px">5</tspan><tspan style="font-size:11px">-10</tspan><tspan style="font-size:19px">9</tspan><tspan style="font-size:10px"> células</tspan></text><text x="1810" y="1206" style="font-size:10.5px">viables/g</text></g>
<g id="s14" class="n yl"><rect x="2293" y="827" width="146" height="35"/><text><tspan x="2366" y="840">100 millones de</tspan><tspan x="2366" y="857">bacilos/g materia fecal</tspan></text></g>
<g id="s15" class="n yl"><rect x="2517" y="835" width="85" height="32"/><text><tspan x="2559" y="847">agua</tspan><tspan x="2559" y="863">contaminada</tspan></text></g>
<g id="s16" class="n yl"><rect x="2707" y="843" width="97" height="35"/><text><tspan x="2755" y="856">Contaminación</tspan><tspan x="2755" y="873">cruzada</tspan></text></g>
<g id="s17" class="n yl"><rect x="2836" y="861" width="79" height="17"/><text x="2875" y="873">T adecuada</text></g>
<g id="s18" class="n yl"><rect x="2062" y="850" width="71" height="19"/><text x="2097" y="864">Congelada</text></g>
<g id="s19" class="n yl"><rect x="2154" y="852" width="113" height="18"/><text x="2210" y="865">Poductos lácteos</text></g>
<g id="s20" class="n yl"><rect x="2224" y="895" width="59" height="19"/><text x="2253" y="909">Cárnicos</text></g>
<g id="s21" class="n yl"><rect x="2304" y="893" width="65" height="17"/><text x="2336" y="905">Humanos</text></g>
<g id="s22" class="n yl"><rect x="2559" y="895" width="87" height="51"/><text><tspan x="2602" y="909">Acuático</tspan><tspan x="2602" y="925">Domestico</tspan><tspan x="2602" y="941">Fauna nociva</tspan></text></g>
<g id="s23" class="n yl"><rect x="2892" y="911" width="48" height="16"/><text x="2916" y="923">manos</text></g>
<g id="s24" class="n yl"><rect x="2391" y="918" width="70" height="19"/><text x="2426" y="932">Vegetales</text></g>
<g id="s25" class="n ys"><rect x="2027" y="932" width="146" height="17"/><text x="2100" y="944">Presencia en alimentos</text></g>
<g id="s26" class="n yl"><rect x="2223" y="933" width="38" height="17"/><text x="2242" y="945">Fruta</text></g>
<g id="s27" class="n yl"><rect x="2747" y="943" width="58" height="18"/><text x="2776" y="956">Prevenir</text></g>
<g id="s28" class="n yl"><rect x="2905" y="953" width="77" height="17"/><text x="2943" y="965">menos 5° C</text></g>
<g id="s29" class="n ys"><rect x="2264" y="962" width="146" height="18"/><text x="2337" y="975">Fuentes de aislamiento</text></g>
<g id="s30" class="n yl"><rect x="2467" y="968" width="62" height="18"/><text x="2498" y="981">Animales</text></g>
<g id="s31" class="n yl"><rect x="2737" y="1006" width="86" height="17"/><text x="2780" y="1018">Salmonelosis</text></g>
<g id="s32" class="n yl"><rect x="2886" y="1009" width="165" height="35"/><text><tspan x="2968" y="1022">Niños, adultos</tspan><tspan x="2968" y="1039">personas con VIH, cáncer</tspan></text></g>
<g id="s33" class="n yl"><rect x="2289" y="1017" width="104" height="17"/><text x="2341" y="1029">Medio ambiente</text></g>
<g id="s34" class="n yl"><rect x="2455" y="1016" width="55" height="50"/><text><tspan x="2482" y="1029">Agua</tspan><tspan x="2482" y="1045">Tierra</tspan><tspan x="2482" y="1061">Objetos</tspan></text></g>
<g id="s35" class="n ys"><rect x="2084" y="1032" width="59" height="18"/><text x="2113" y="1045">Factores</text></g>
<g id="s36" class="n ys"><rect x="2531" y="1067" width="134" height="17"/><text x="2598" y="1079">Infecciones humanas</text></g>
<g id="s37" class="n yl"><rect x="2801" y="1067" width="81" height="16"/><text x="2841" y="1079">Transmision</text></g>
<g id="s38" class="n yl"><rect x="2933" y="1078" width="80" height="51"/><text><tspan x="2973" y="1092">Oral</tspan><tspan x="2973" y="1108">Ano-oral</tspan><tspan x="2973" y="1124">Respiratorio</tspan></text></g>
<g id="s39" class="n yl"><rect x="2772" y="1111" width="73" height="19"/><text x="2808" y="1125">Septicemia</text></g>
<g id="s40" class="n yl"><rect x="2120" y="1126" width="50" height="17"/><text x="2145" y="1138">Habitat</text></g>
<g id="s41" class="n ys"><rect x="2428" y="1132" width="91" height="19"/><text x="2473" y="1146">Supervivencia</text></g>
<g id="s42" class="n yl"><rect x="2727" y="1144" width="44" height="18"/><text x="2749" y="1157">Fiebre</text></g>
<g id="s43" class="n yl"><rect x="2015" y="1185" width="61" height="17"/><text x="2045" y="1197">50-60 %</text></g>
<g id="s44" class="n ys"><rect x="2343" y="1174" width="67" height="18"/><text x="2376" y="1187">Desarrollo</text></g>
<g id="s45" class="n yl"><rect x="2737" y="1213" width="107" height="18"/><text x="2790" y="1226">Dolor abdominal</text></g>
<g id="s46" class="n yl"><rect x="2215" y="1216" width="103" height="17"/><text x="2266" y="1228">Medio ambiente</text></g>
<g id="s47" class="n yl"><rect x="2445" y="1219" width="101" height="19"/><text x="2495" y="1233">No termodúrica</text></g>
<g id="s48" class="n yl"><rect x="2146" y="1239" width="59" height="18"/><text x="2175" y="1252">Intestino</text></g>
<g id="s49" class="n yl"><rect x="2673" y="1259" width="52" height="18"/><text x="2699" y="1272">Nausea</text></g>
<g id="s50" class="n yl"><rect x="2750" y="1267" width="51" height="16"/><text x="2775" y="1279">Diarrea</text></g>
<g id="s51" class="n yl"><rect x="2563" y="1272" width="80" height="21"/><text x="2603" y="1286">Congelación</text></g>
<g id="s52" class="n yl"><rect x="2092" y="1294" width="62" height="18"/><text x="2123" y="1307">Animales</text></g>
<g id="s53" class="n yl"><rect x="2178" y="1299" width="64" height="18"/><text x="2210" y="1312">Humanos</text></g>
<g id="s54" class="n yl"><rect x="2270" y="1306" width="42" height="18"/><text x="2291" y="1319">heces</text></g>
<g id="s55" class="n yl"><rect x="2386" y="1362" width="42" height="18"/><text x="2407" y="1375">0.974</text></g>
<g id="s56" class="n yl"><rect x="2512" y="1354" width="14" height="18"/><text x="2519" y="1367">7</text></g>
<g id="s57" class="n yl"><rect x="2467" y="1422" width="52" height="18"/><text x="2493" y="1435">lácticas</text></g>
<g id="s58" class="n yl"><rect x="2306" y="1460" width="63" height="17"/><text x="2337" y="1472">35-37 °C</text></g>
<g id="e1" class="n pu bi"><rect x="399" y="773" width="114" height="17"/><text x="456" y="785">Escherichia coli</text></g>
<g id="e2" class="n gr"><rect x="29" y="803" width="95" height="19"/><text x="76" y="817">No esporulado</text></g>
<g id="e3" class="n gr"><rect x="7" y="830" width="134" height="17"/><text x="74" y="842">Anaerobio facultativo</text></g>
<g id="e4" class="n gr"><rect x="13" y="855" width="113" height="19"/><text x="69" y="869">Oxidasa negativo</text></g>
<g id="e5" class="n pu"><rect x="343" y="872" width="59" height="16"/><text x="372" y="884">Factores</text></g>
<g id="e6" class="n gr"><rect x="459" y="869" width="115" height="21"/><text x="516" y="883">enterohemorrágia</text></g>
<g id="e7" class="n gr"><rect x="695" y="878" width="162" height="34"/><text><tspan x="776" y="891">10 a la 6 a 10 a la 10</tspan><tspan x="776" y="907">células viables por gramo</tspan></text></g>
<g id="e8" class="n gr"><rect x="94" y="892" width="85" height="18"/><text x="136" y="905">Carne cruda</text></g>
<g id="e9" class="n gr"><rect x="0" y="909" width="47" height="17"/><text x="23" y="921">Picada</text></g>
<g id="e10" class="n gr"><rect x="146" y="917" width="67" height="16"/><text x="179" y="929">Hortalizas</text></g>
<g id="e11" class="n gr"><rect x="57" y="918" width="41" height="18"/><text x="77" y="931">cruda</text></g>
<g id="e12" class="n pu"><rect x="486" y="924" width="70" height="20"/><text x="521" y="938">patógenos</text></g>
<g id="e13" class="n pu"><rect x="338" y="937" width="69" height="16"/><text x="372" y="949">Desarrollo</text></g>
<g id="e14" class="n gr"><rect x="673" y="939" width="158" height="19"/><text x="752" y="953">Agar MacConkey-sorbitol</text></g>
<g id="e15" class="n gr"><rect x="83" y="948" width="61" height="18"/><text x="113" y="961">espinaca</text></g>
<g id="e16" class="n gr"><rect x="40" y="989" width="164" height="21"/><text x="122" y="1003">Productos lácteos (crudos</text></g>
<g id="e17" class="n gr"><rect x="302" y="1014" width="27" height="17"/><text x="315" y="1026">37</text></g>
<g id="e18" class="n gr"><rect x="358" y="1027" width="34" height="17"/><text x="375" y="1039">0.95</text></g>
<g id="e19" class="n gr"><rect x="418" y="1027" width="29" height="17"/><text x="432" y="1039">6-7</text></g>
<g id="e20" class="n gr"><rect x="788" y="1012" width="112" height="35"/><text><tspan x="844" y="1025">Enteroagregativa</tspan><tspan x="844" y="1042">(ECEG)</tspan></text></g>
<g id="e21" class="n gr"><rect x="122" y="1028" width="166" height="35"/><text><tspan x="205" y="1041">Intestino seres humanos,</tspan><tspan x="205" y="1058">aniamles sangre caliente</tspan></text></g>
<g id="e22" class="n gr"><rect x="470" y="1043" width="63" height="16"/><text x="501" y="1055">O157:H7</text></g>
<g id="e23" class="n gr"><rect x="811" y="1066" width="109" height="36"/><text><tspan x="865" y="1080">Enteroadherente</tspan><tspan x="865" y="1096">(ECEA)</tspan></text></g>
<g id="e24" class="n pu"><rect x="353" y="1084" width="134" height="17"/><text x="420" y="1096">Infecciones humanas</text></g>
<g id="e25" class="n gr"><rect x="831" y="1124" width="101" height="35"/><text><tspan x="881" y="1137">Enteroimvasiva</tspan><tspan x="881" y="1154">(ESEI)</tspan></text></g>
<g id="e26" class="n gr"><rect x="637" y="1144" width="119" height="37"/><text><tspan x="696" y="1158">Verocitotoxigénica</tspan><tspan x="696" y="1175">(ECVT)</tspan></text></g>
<g id="e27" class="n gr"><rect x="436" y="1168" width="122" height="35"/><text><tspan x="497" y="1181">Síndrome</tspan><tspan x="497" y="1198">hemolítico urémico</tspan></text></g>
<g id="e28" class="n gr"><rect x="181" y="1191" width="136" height="20"/><text x="249" y="1205">Diarrea con sangrado</text></g>
<g id="e29" class="n gr"><rect x="779" y="1182" width="109" height="37"/><text><tspan x="833" y="1196">Enterotoxigénica</tspan><tspan x="833" y="1213">(ECET)</tspan></text></g>
<g id="e30" class="n gr"><rect x="572" y="1205" width="113" height="37"/><text><tspan x="628" y="1219">Enteropatogénica</tspan><tspan x="628" y="1236">(ECEP)</tspan></text></g>
<g id="e31" class="n gr"><rect x="222" y="1246" width="125" height="17"/><text x="284" y="1258">Colicosabdominales</text></g>
<g id="e32" class="n gr"><rect x="384" y="1261" width="51" height="18"/><text x="409" y="1274">Vómito</text></g>
<g id="e33" class="n gr"><rect x="473" y="1265" width="45" height="17"/><text x="495" y="1277">3-5 %</text></g>
<g id="y1" class="n rd bi"><rect x="1202" y="932" width="181" height="28"/><text x="1292" y="950">Yersinia enterocolitica</text></g>
<g id="y2" class="n pk"><rect x="1083" y="1128" width="95" height="19"/><text x="1130" y="1142">No esporulado</text></g>
<g id="y3" class="n pk"><rect x="1083" y="1162" width="93" height="20"/><text x="1129" y="1176">Ureasa positia</text></g>
<g id="y4" class="n pk"><rect x="1012" y="1187" width="167" height="20"/><text x="1095" y="1201">Oxidasa y nitrato negativo</text></g>
<g id="y5" class="n pk"><rect x="1092" y="1217" width="92" height="20"/><text x="1138" y="1231">Gramnegativa</text></g>
<g id="y6" class="n rd"><rect x="1336" y="1214" width="56" height="17"/><text x="1364" y="1226">Yersinia</text></g>
<g id="y7" class="n rd"><rect x="1600" y="1244" width="146" height="18"/><text x="1673" y="1257">Fuentes de aislamiento</text></g>
<g id="y8" class="n pk"><rect x="813" y="1279" width="205" height="19"/><text x="915" y="1293">No definida (3.5X109,reportada)</text></g>
<g id="y9" class="n rd"><rect x="1304" y="1288" width="59" height="18"/><text x="1333" y="1301">Factores</text></g>
<g id="y10" class="n rd"><rect x="1384" y="1287" width="146" height="18"/><text x="1457" y="1300">Presencia en alimentos</text></g>
<g id="y11" class="n pk"><rect x="1080" y="1308" width="61" height="19"/><text x="1110" y="1322">50-60 %</text></g>
<g id="y12" class="n pk"><rect x="1945" y="1330" width="167" height="36"/><text><tspan x="2028" y="1344">agar CIN , agar SS, y agar</tspan><tspan x="2028" y="1360">sulfito de bismuto, PCR</tspan></text></g>
<g id="y13" class="n rd"><rect x="849" y="1327" width="52" height="17"/><text x="875" y="1339">Habitat</text></g>
<g id="y14" class="n pk"><rect x="1386" y="1338" width="73" height="19"/><text x="1422" y="1352">Psicrótrofo</text></g>
<g id="y15" class="n pk"><rect x="1488" y="1337" width="104" height="20"/><text x="1540" y="1351">No termodúrico</text></g>
<g id="y16" class="n pk"><rect x="1570" y="1385" width="54" height="17"/><text x="1597" y="1397">Cerdos</text></g>
<g id="y17" class="n pk"><rect x="1667" y="1383" width="107" height="21"/><text x="1720" y="1397">Cárnicos (cerdo)</text></g>
<g id="y18" class="n pk"><rect x="1805" y="1385" width="117" height="19"/><text x="1863" y="1399">Productos lácteos</text></g>
<g id="y19" class="n pk"><rect x="1952" y="1394" width="66" height="18"/><text x="1985" y="1407">Humanos</text></g>
<g id="y20" class="n pk"><rect x="747" y="1418" width="66" height="16"/><text x="780" y="1430">Animales</text></g>
<g id="y21" class="n pk"><rect x="950" y="1418" width="102" height="18"/><text x="1001" y="1431">Medio ambiente</text></g>
<g id="y22" class="n rd"><rect x="1343" y="1410" width="93" height="19"/><text x="1389" y="1424">Supervivencia</text></g>
<g id="y23" class="n pk"><rect x="579" y="1444" width="58" height="18"/><text x="608" y="1457">Ostiones</text></g>
<g id="y24" class="n pk"><rect x="838" y="1457" width="56" height="17"/><text x="866" y="1469">insectos</text></g>
<g id="y25" class="n pk"><rect x="1012" y="1478" width="129" height="21"/><text x="1076" y="1492">agua río, pozo, lago</text></g>
<g id="y26" class="n pk"><rect x="598" y="1496" width="39" height="16"/><text x="617" y="1508">ratas</text></g>
<g id="y27" class="n pk"><rect x="1589" y="1496" width="55" height="20"/><text x="1616" y="1510">Biotipos</text></g>
<g id="y28" class="n rd"><rect x="1894" y="1498" width="62" height="18"/><text x="1925" y="1511">serotipos</text></g>
<g id="y29" class="n pk"><rect x="789" y="1512" width="47" height="17"/><text x="812" y="1524">Monos</text></g>
<g id="y30" class="n rd"><rect x="1165" y="1520" width="67" height="18"/><text x="1198" y="1533">Desarrollo</text></g>
<g id="y31" class="n pk"><rect x="1307" y="1528" width="95" height="19"/><text x="1354" y="1542">Pasteurización</text></g>
<g id="y32" class="n pk"><rect x="1491" y="1518" width="63" height="19"/><text x="1522" y="1532">Cloración</text></g>
<g id="y33" class="n pk"><rect x="890" y="1527" width="75" height="20"/><text x="927" y="1541">Vegetación</text></g>
<g id="y34" class="n pk"><rect x="641" y="1533" width="88" height="20"/><text x="685" y="1547">Perros, gatos</text></g>
<g id="y35" class="n pk"><rect x="1413" y="1548" width="81" height="21"/><text x="1453" y="1562">Congelación</text></g>
<g id="y36" class="n pk"><rect x="1026" y="1577" width="62" height="17"/><text x="1057" y="1589">NaCl 5%</text></g>
<g id="y37" class="n pk"><rect x="1330" y="1602" width="28" height="16"/><text x="1344" y="1614">7.2</text></g>
<g id="y38" class="n pk"><rect x="1504" y="1603" width="75" height="21"/><text x="1541" y="1617">Patógenos</text></g>
<g id="y39" class="n pk"><rect x="1634" y="1604" width="91" height="21"/><text x="1679" y="1618">No patógenos</text></g>
<g id="y40" class="n pk"><rect x="1781" y="1606" width="39" height="17"/><text x="1800" y="1618">3:O3</text></g>
<g id="y41" class="n pk"><rect x="1872" y="1606" width="39" height="17"/><text x="1891" y="1618">2:O5</text></g>
<g id="y42" class="n pk"><rect x="1952" y="1606" width="22" height="17"/><text x="1963" y="1618">27</text></g>
<g id="y43" class="n pk"><rect x="2002" y="1606" width="37" height="17"/><text x="2020" y="1618">2:O9</text></g>
<g id="y44" class="n pk"><rect x="2099" y="1606" width="39" height="17"/><text x="2118" y="1618">4:O3</text></g>
<g id="y45" class="n pk"><rect x="1007" y="1676" width="48" height="17"/><text x="1031" y="1688">29-30</text></g>
<g id="y46" class="n pk"><rect x="1143" y="1678" width="35" height="18"/><text x="1160" y="1691">0.97</text></g>
<g id="y47" class="n pk"><rect x="1248" y="1677" width="87" height="21"/><text x="1291" y="1691">Refrigeración</text></g>
<g id="y48" class="n pk"><rect x="1527" y="1668" width="49" height="19"/><text x="1551" y="1682">1B,2-5</text></g>
<g id="y49" class="n pk"><rect x="1670" y="1668" width="22" height="18"/><text x="1681" y="1681">1A</text></g>
<g id="y50" class="n pk"><rect x="1785" y="1681" width="31" height="16"/><text x="1800" y="1693">Asia</text></g>
<g id="y51" class="n pk"><rect x="1876" y="1679" width="31" height="18"/><text x="1891" y="1692">USA</text></g>
<g id="y52" class="n pk"><rect x="1995" y="1678" width="49" height="19"/><text x="2019" y="1692">Europa</text></g>
<g id="y53" class="n pk"><rect x="2116" y="1682" width="53" height="16"/><text x="2142" y="1694">Mundial</text></g>
<g id="y54" class="n rd"><rect x="1607" y="1727" width="107" height="18"/><text x="1660" y="1740">Sangre en heces</text></g>
<g id="y55" class="n pk"><rect x="1529" y="1758" width="52" height="18"/><text x="1555" y="1771">Diarrea</text></g>
<g id="y56" class="n rd"><rect x="1891" y="1782" width="135" height="16"/><text x="1958" y="1794">Infecciones humanas</text></g>
<g id="y57" class="n pk"><rect x="1527" y="1798" width="106" height="17"/><text x="1580" y="1810">Dolor abdominal</text></g>
<g id="y58" class="n pk"><rect x="1955" y="1837" width="177" height="18"/><text x="2043" y="1850">Gastroenteritis o septicemia</text></g>
<g id="y59" class="n pk"><rect x="2233" y="1838" width="71" height="18"/><text x="2268" y="1851">Yersiniosis</text></g>
<g id="y60" class="n pk"><rect x="1582" y="1838" width="44" height="16"/><text x="1604" y="1850">Fiebre</text></g>
<g id="y61" class="n pk"><rect x="1662" y="1854" width="37" height="17"/><text x="1680" y="1866">Rash</text></g>
<g id="y62" class="n pk"><rect x="2246" y="1883" width="58" height="18"/><text x="2275" y="1896">Prevenir</text></g>
<g id="y63" class="n pk"><rect x="2477" y="1890" width="97" height="21"/><text x="2525" y="1904">Tejido linfático</text></g>
<g id="y64" class="n pk"><rect x="1710" y="1896" width="67" height="17"/><text x="1743" y="1908">Peritonitis</text></g>
<g id="y65" class="n pk"><rect x="1792" y="1903" width="73" height="17"/><text x="1828" y="1915">Colecistitis</text></g>
<g id="y66" class="n pk"><rect x="1919" y="1920" width="121" height="17"/><text x="1979" y="1932">Estado inmunitario</text></g>
<g id="y67" class="n pk"><rect x="2095" y="1920" width="37" height="17"/><text x="2113" y="1932">Edad</text></g>
<g id="y68" class="n pk"><rect x="2455" y="1963" width="27" height="17"/><text x="2468" y="1975">Inv</text></g>
<g id="y69" class="n pk"><rect x="2512" y="1972" width="20" height="17"/><text x="2522" y="1984">ail</text></g>
<g id="y70" class="n pk"><rect x="2593" y="1967" width="34" height="19"/><text x="2610" y="1981">ystA</text></g>
<g id="y71" class="n pk"><rect x="1920" y="1987" width="66" height="17"/><text x="1953" y="1999">Lactantes</text></g>
<g id="y72" class="n pk"><rect x="2400" y="2006" width="42" height="17"/><text x="2421" y="2018">Heces</text></g>
<g id="y73" class="n pk"><rect x="2064" y="2023" width="80" height="17"/><text x="2104" y="2035">Carne cruda</text></g>
<g id="y74" class="n pk"><rect x="2220" y="2022" width="119" height="16"/><text x="2279" y="2034">Lavarse las manos</text></g>
<g id="y75" class="n pk"><rect x="2361" y="2059" width="96" height="34"/><text><tspan x="2409" y="2072">Contaminación</tspan><tspan x="2409" y="2088">cruzada</tspan></text></g>
<g id="y76" class="n pk"><rect x="2124" y="2073" width="84" height="17"/><text x="2166" y="2085">Pasteurizado</text></g>
</svg>
